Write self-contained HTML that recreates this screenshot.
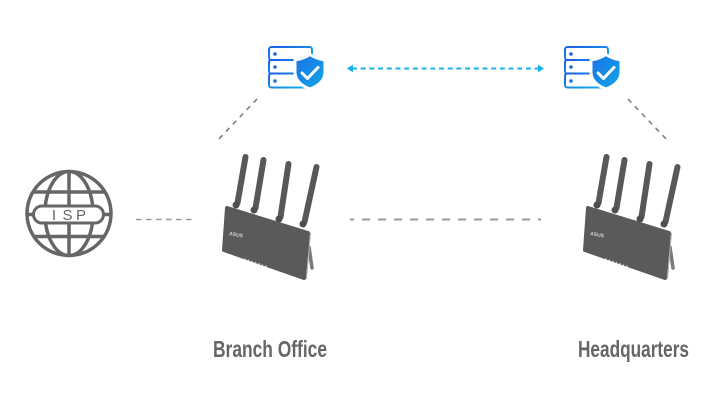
<!DOCTYPE html>
<html><head><meta charset="utf-8"><style>
html,body{margin:0;padding:0;background:#fff;}
svg{display:block;}
</style></head><body>
<svg width="718" height="410" viewBox="0 0 718 410" xmlns="http://www.w3.org/2000/svg">
<defs>
<linearGradient id="bg1" x1="0" y1="0" x2="1" y2="1">
<stop offset="0" stop-color="#1a5fe4"/><stop offset="1" stop-color="#13b4ea"/>
</linearGradient>
<linearGradient id="sh1" x1="0" y1="0" x2="1" y2="1">
<stop offset="0" stop-color="#1a6ee6"/><stop offset="1" stop-color="#12a9e8"/>
</linearGradient>
<g id="srv">
  <rect x="1" y="1" width="43" height="13" rx="2.5" fill="none" stroke="url(#bg1)" stroke-width="2"/>
  <rect x="1" y="14" width="43" height="13.5" rx="2" fill="none" stroke="url(#bg1)" stroke-width="2"/>
  <rect x="1" y="27.5" width="43" height="14" rx="2.5" fill="none" stroke="url(#bg1)" stroke-width="2"/>
  <circle cx="7" cy="8" r="1.8" fill="#1a62e4"/>
  <circle cx="7" cy="21" r="1.8" fill="#1a6ae4"/>
  <circle cx="7" cy="35" r="1.8" fill="#1a72e4"/>
  <path d="M27,14 Q35,13 42,8.5 Q49,13 57,14 L57,26 C57,35 50,40 42,43 C34,40 27,35 27,26 Z" fill="url(#sh1)" stroke="#fff" stroke-width="3" stroke-linejoin="round"/>
  <path d="M34,27 L39.5,32.5 L50,21.5" fill="none" stroke="#fff" stroke-width="3" stroke-linecap="round" stroke-linejoin="round"/>
</g>
<g id="router">
  <path d="M309,247 L312,268" stroke="#7a7a7a" stroke-width="3.5" stroke-linecap="round"/>
  <g stroke="#585858" stroke-width="6" stroke-linecap="round">
    <line x1="245.5" y1="157" x2="237.5" y2="203"/>
    <line x1="263.5" y1="160" x2="255.5" y2="208"/>
    <line x1="288.5" y1="164" x2="280.5" y2="217"/>
    <line x1="316.5" y1="167" x2="304.5" y2="222"/>
  </g>
  <g fill="#4e4e4e">
    <circle cx="236" cy="205" r="3.5"/>
    <circle cx="254" cy="210" r="3.5"/>
    <circle cx="279" cy="219" r="3.5"/>
    <circle cx="303" cy="224" r="3.5"/>
  </g>
  <path d="M227,208 L308,233 L304,278 L224,250 Z" fill="#5a5a5a" stroke="#5a5a5a" stroke-width="4" stroke-linejoin="round"/>
  <path d="M310.5,233 L306.5,279" stroke="#b0b0b0" stroke-width="1" fill="none"/>
  <text x="229" y="235" font-family="Liberation Sans, sans-serif" font-size="5" font-weight="bold" fill="#d8d8d8" transform="rotate(10 229 235)">ASUS</text>
  <g fill="#cfcfcf">
    <circle cx="245" cy="259" r="0.8"/><circle cx="248.5" cy="260.2" r="0.8"/><circle cx="252" cy="261.4" r="0.8"/>
    <circle cx="255.5" cy="262.6" r="0.8"/><circle cx="259" cy="263.8" r="0.8"/><circle cx="262.5" cy="265" r="0.8"/>
    <circle cx="266" cy="266.2" r="0.8"/>
  </g>
</g>
</defs>
<rect width="718" height="410" fill="#fff"/>

<!-- dashed grey connectors -->
<g stroke="#9a9a9a" fill="none">
  <line x1="136" y1="219.5" x2="193" y2="219.5" stroke-width="1.5" stroke-dasharray="5.5 4.5"/>
  <line x1="350" y1="219.5" x2="541" y2="219.5" stroke-width="2" stroke-dasharray="8 8" stroke-dashoffset="4"/>
  <line x1="257" y1="99" x2="216" y2="142" stroke="#777" stroke-width="1.5" stroke-dasharray="5 5"/>
  <line x1="628" y1="99" x2="669" y2="142" stroke="#777" stroke-width="1.5" stroke-dasharray="5 5"/>
</g>

<!-- blue arrow -->
<line x1="352" y1="68.5" x2="539" y2="68.5" stroke="#1ab3e8" stroke-width="2" stroke-dasharray="5 3.7"/>
<path d="M347,68.5 L353,64.5 L353,72.5 Z" fill="#1ab3e8"/>
<path d="M544,68.5 L538,64.5 L538,72.5 Z" fill="#1ab3e8"/>

<!-- servers -->
<use href="#srv" transform="translate(268,46)"/>
<use href="#srv" transform="translate(564,46)"/>

<!-- globe -->
<g stroke="#666" stroke-width="3.5" fill="none">
  <circle cx="69" cy="213.5" r="42"/>
  <ellipse cx="69" cy="213.5" rx="24" ry="42"/>
  <line x1="69" y1="171.5" x2="69" y2="255.5"/>
  <line x1="33" y1="192" x2="105" y2="192"/>
  <line x1="33" y1="236.5" x2="105" y2="236.5"/>
  <line x1="27" y1="214.5" x2="111" y2="214.5"/>
  <rect x="33.5" y="206" width="70" height="17" rx="8.5" fill="#fff" stroke-width="3"/>
</g>
<g font-family="Liberation Sans, sans-serif" font-size="15" fill="#666" text-anchor="middle">
  <text x="54" y="220">I</text>
  <text x="67.5" y="220">S</text>
  <text x="81" y="220">P</text>
</g>

<!-- routers -->
<use href="#router"/>
<use href="#router" transform="translate(361,0)"/>

<!-- labels -->
<g font-family="'Liberation Sans Narrow','Liberation Sans',sans-serif" font-weight="bold" font-size="23" fill="#666">
  <text x="213" y="357" textLength="114" lengthAdjust="spacingAndGlyphs">Branch Office</text>
  <text x="578" y="357" textLength="111" lengthAdjust="spacingAndGlyphs">Headquarters</text>
</g>
</svg>
</body></html>
